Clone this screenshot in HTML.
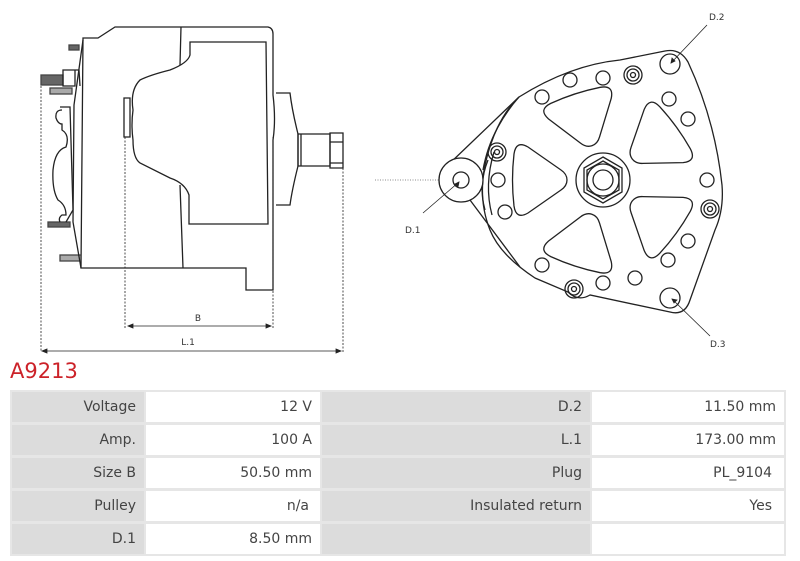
<!DOCTYPE html>
<html><head><meta charset="utf-8"><style>
body{margin:0;width:800px;height:561px;background:#fff;position:relative;overflow:hidden;font-family:"DejaVu Sans","Liberation Sans",sans-serif}
.t{position:absolute;left:10px;top:390px;width:776px;height:166px;background:#e6e6e6}
.c{position:absolute;height:30px;line-height:30px;font-size:14px;color:#444;text-align:right;box-sizing:border-box;padding-right:8px}
.l{background:#dcdcdc}.v{background:#fff}
h1{position:absolute;left:10px;top:359px;margin:0;font-weight:normal;font-size:21px;color:#cc2229;font-family:"DejaVu Sans","Liberation Sans",sans-serif}
</style></head><body>
<svg width="800" height="360" style="position:absolute;left:0;top:0" fill="none" stroke="#222" stroke-width="1.3">
<path d="M83,38 L98,38 L115,27 L268,27 Q273,28 273,34 L273,95 Q276,120 273,140 L273,290 L246,290 L246,268 L81,268 Z" fill="#fff"/>
<path d="M181,27 L180,65 M180,185 L183,268"/>
<path d="M190,42 L266,42 L268,224 L189,224 L189,195 Q185,183 170,178 L140,163 Q133,158 133,140 Q131,125 133,110 Q130,90 140,80 Q150,75 170,70 Q188,63 190,55 Z"/>
<path d="M124,98 L130,98 L130,137 L124,137 Z"/>
<path d="M276,93 L290,93 Q292,110 298,134 L298,166 Q292,190 290,205 L276,205" />
<path d="M298,134 L330,134 L330,166 L298,166 Z M301,134 L301,166"/>
<path d="M330,133 L343,133 L343,168 L330,168 Z M330,142 L343,142 M330,163 L343,163"/>
<rect x="69" y="45" width="10" height="5" fill="#666" stroke="#444"/>
<rect x="41" y="75" width="22" height="10" fill="#666" stroke="#444"/>
<path d="M63,70 L75,70 L75,86 L63,86 Z M75,70 L79,70 L80,86"/>
<rect x="50" y="88" width="22" height="6" fill="#aaa" stroke="#444"/>
<rect x="48" y="222" width="22" height="5" fill="#666" stroke="#444"/>
<rect x="60" y="255" width="21" height="6" fill="#aaa" stroke="#444"/>
<path d="M60,107 L70,107 L73,210 L66,222 M62,110 Q55,110 56,118 Q58,124 62,124 L62,130 Q70,135 66,147 Q55,150 53,170 Q52,190 58,200 Q66,205 66,215 L62,215 Q58,218 60,222"/>
<path d="M83,40 L74,105 L73,222 L81,268"/>
<g stroke-dasharray="2,1.5" stroke-width="0.8">
<path d="M41,86 L41,352 M125,137 L125,328 M273,137 L273,328 M343,168 L343,352"/>
</g>
<g stroke-width="0.8">
<path d="M128,326 L271,326 M42,351 L341,351"/>
<path d="M128,326 l5,-2 l0,4 Z M271,326 l-5,-2 l0,4 Z M42,351 l5,-2 l0,4 Z M341,351 l-5,-2 l0,4 Z" fill="#222"/>
</g>
<text x="198" y="321" font-size="9" fill="#333" stroke="none" text-anchor="middle" font-family="DejaVu Sans">B</text>
<text x="188" y="345" font-size="9" fill="#333" stroke="none" text-anchor="middle" font-family="DejaVu Sans">L.1</text>
<path d="M375,180 L440,180" stroke-dasharray="1,1.5" stroke-width="0.7" stroke="#666"/>
<path d="M519,97 Q570,65 620,60 L665,51 Q680,48 688,62 Q715,120 722,185 Q724,210 715,230 L690,300 Q685,316 670,312 L590,295 Q578,302 568,292 L535,278 Q500,255 490,230 Q478,200 485,165 Q495,120 519,97 Z"/>
<path d="M483,170 Q490,130 519,97 M470,200 L520,267 M448,165 L519,97"/>
<path d="M488,160 Q478,185 485,210 M494,152 Q484,185 492,215"/>
<circle cx="461" cy="180" r="22" fill="#fff"/>
<circle cx="461" cy="180" r="8"/>
<circle cx="603" cy="180" r="27"/>
<polygon points="603,157 622,168 622,192 603,203 584,192 584,168"/>
<polygon points="603,161 619,170 619,190 603,199 587,190 587,170"/>
<circle cx="603" cy="180" r="16"/><circle cx="603" cy="180" r="10"/>
<g transform="translate(603,180)">
<path id="w" d="M-36,0 Q-36,-6 -42,-10 L-75,-33 Q-87,-40 -89,-26 Q-92,0 -89,26 Q-87,40 -75,33 L-42,10 Q-36,6 -36,0 Z"/>
<use href="#w" transform="rotate(72)"/><use href="#w" transform="rotate(144)"/><use href="#w" transform="rotate(216)"/><use href="#w" transform="rotate(288)"/>
</g>
<g>
<circle cx="570" cy="80" r="7"/><circle cx="603" cy="78" r="7"/><circle cx="542" cy="97" r="7"/><circle cx="669" cy="99" r="7"/><circle cx="688" cy="119" r="7"/><circle cx="707" cy="180" r="7"/><circle cx="505" cy="212" r="7"/><circle cx="498" cy="180" r="7"/><circle cx="688" cy="241" r="7"/><circle cx="668" cy="260" r="7"/><circle cx="542" cy="265" r="7"/><circle cx="603" cy="283" r="7"/><circle cx="635" cy="278" r="7"/>
<circle cx="670" cy="64" r="10"/><circle cx="670" cy="298" r="10"/>
</g>
<g>
<circle cx="633" cy="75" r="9"/><circle cx="633" cy="75" r="6"/><circle cx="633" cy="75" r="2.5"/>
<circle cx="497" cy="152" r="9"/><circle cx="497" cy="152" r="6"/><circle cx="497" cy="152" r="2.5"/>
<circle cx="710" cy="209" r="9"/><circle cx="710" cy="209" r="6"/><circle cx="710" cy="209" r="2.5"/>
<circle cx="574" cy="289" r="9"/><circle cx="574" cy="289" r="6"/><circle cx="574" cy="289" r="2.5"/>
</g>
<g stroke-width="0.8">
<path d="M707,25 L671,63 M672,299 L710,336 M423,213 L459,182"/>
<path d="M671,63 l1,-5 l3,3 Z M672,299 l5,1 l-3,3 Z M459,182 l-1,5 l-3,-3 Z" fill="#222"/>
</g>
<g font-size="9" fill="#333" stroke="none" font-family="DejaVu Sans">
<text x="709" y="20">D.2</text><text x="710" y="347">D.3</text><text x="405" y="233">D.1</text>
</g>
</svg>
<h1>A9213</h1>
<div class="t"></div>
<div class="c l" style="left:12px;top:392px;width:132px">Voltage</div>
<div class="c v" style="left:146px;top:392px;width:174px">12 V</div>
<div class="c l" style="left:322px;top:392px;width:268px">D.2</div>
<div class="c v" style="left:592px;top:392px;width:192px">11.50 mm</div>
<div class="c l" style="left:12px;top:425px;width:132px">Amp.</div>
<div class="c v" style="left:146px;top:425px;width:174px">100 A</div>
<div class="c l" style="left:322px;top:425px;width:268px">L.1</div>
<div class="c v" style="left:592px;top:425px;width:192px">173.00 mm</div>
<div class="c l" style="left:12px;top:458px;width:132px">Size B</div>
<div class="c v" style="left:146px;top:458px;width:174px">50.50 mm</div>
<div class="c l" style="left:322px;top:458px;width:268px">Plug</div>
<div class="c v" style="left:592px;top:458px;width:192px;padding-right:12px">PL_9104</div>
<div class="c l" style="left:12px;top:491px;width:132px">Pulley</div>
<div class="c v" style="left:146px;top:491px;width:174px;padding-right:11px">n/a</div>
<div class="c l" style="left:322px;top:491px;width:268px">Insulated return</div>
<div class="c v" style="left:592px;top:491px;width:192px;padding-right:12px">Yes</div>
<div class="c l" style="left:12px;top:524px;width:132px">D.1</div>
<div class="c v" style="left:146px;top:524px;width:174px">8.50 mm</div>
<div class="c l" style="left:322px;top:524px;width:268px"></div>
<div class="c v" style="left:592px;top:524px;width:192px"></div>
</body></html>
